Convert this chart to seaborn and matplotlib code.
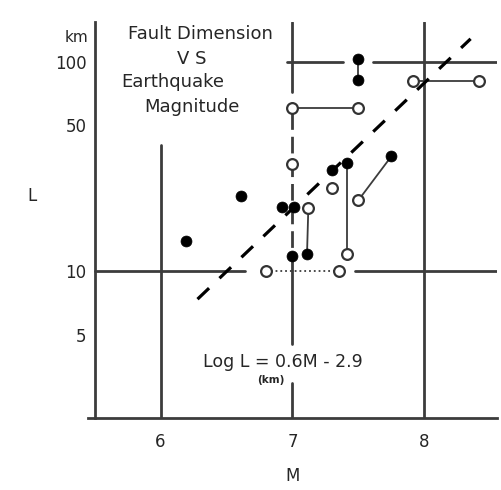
import numpy as np
import matplotlib
matplotlib.use('Agg')
import matplotlib.pyplot as plt
import seaborn as sns

# filled points (M, L in km)
filled_M = [6.19, 6.61, 6.92, 7.01, 7.00, 7.11, 7.30, 7.41, 7.75, 7.50, 7.50]
filled_L = [14.0, 23.0, 20.3, 20.3, 11.9, 12.1, 30.6, 33.0, 35.5, 103.0, 82.0]

# open points
open_M = [7.00, 7.50, 7.91, 8.41, 7.00, 7.30, 7.12, 7.50, 7.41, 6.80, 7.35]
open_L = [60.0, 60.0, 81.0, 81.0, 32.4, 25.1, 20.1, 21.9, 12.1, 10.0, 10.0]

# links between points: (kind_a, idx_a, kind_b, idx_b, style)
links = [
    ('o', 0, 'o', 1, '-'),
    ('o', 2, 'o', 3, '-'),
    ('o', 6, 'f', 5, '-'),
    ('f', 7, 'o', 8, '-'),
    ('o', 7, 'f', 8, '-'),
    ('f', 9, 'f', 10, '-'),
    ('o', 9, 'o', 10, ':'),
]

# regression line Log L = 0.6 M - 2.9
fit_a, fit_b = 0.6, -2.9
fit_M_range = [6.28, 8.35]

# guide lines of the drawing
v_guides = [(6, 2, 40), (8, 2, 155), (7, 72, 155), (7, 4.5, 10), (7, 2, 2.95)]
v_dashed = [(7, 10, 60)]
h_guides = [(100, 6.955, 7.38), (100, 7.61, 8.55), (10, 5.5, 6.64), (10, 7.47, 8.55)]

sns.set_style('white')
plt.rcParams['font.family'] = ['DejaVu Sans']

fig = plt.figure(figsize=(5.02, 4.90), dpi=100)
ax = fig.add_axes([88/502, 72/490, 409/502, 396/490])
ax.set_yscale('log')
ax.set_xlim(5.45, 8.55)
ax.set_ylim(2, 155)

line_col = '#3c3c3c'
for m, l0, l1 in v_guides:
    ax.plot([m, m], [l0, l1], color=line_col, lw=2, zorder=1)
for m, l0, l1 in v_dashed:
    ax.plot([m, m], [l0, l1], color=line_col, lw=2, ls=(0, (6, 2.5)), zorder=1)
for l, m0, m1 in h_guides:
    ax.plot([m0, m1], [l, l], color=line_col, lw=2, zorder=1)

pts = {'f': (filled_M, filled_L), 'o': (open_M, open_L)}
for ka, ia, kb, ib, st in links:
    xa, ya = pts[ka][0][ia], pts[ka][1][ia]
    xb, yb = pts[kb][0][ib], pts[kb][1][ib]
    ax.plot([xa, xb], [ya, yb], color=line_col, lw=1.3, ls=st, zorder=2)

fit_M = np.array(fit_M_range)
ax.plot(fit_M, 10 ** (fit_a * fit_M + fit_b), color='black', lw=2.3,
        ls=(0, (5, 4.5)), zorder=3)

sns.scatterplot(x=open_M, y=open_L, ax=ax, s=60, color='white',
                edgecolor='#333333', linewidth=1.6, zorder=4)
sns.scatterplot(x=filled_M, y=filled_L, ax=ax, s=62, color='black',
                edgecolor='black', linewidth=0.5, zorder=5)

# axes styling
for s in ['top', 'right']:
    ax.spines[s].set_visible(False)
ax.spines['left'].set_position(('data', 5.5))
for s in ['left', 'bottom']:
    ax.spines[s].set_color(line_col)
    ax.spines[s].set_linewidth(2)

ax.set_xticks([6, 7, 8])
ax.set_xticklabels(['6', '7', '8'])
ax.set_xticks([5.5, 6.5, 7.5, 8.5], minor=True)
ax.set_yticks([5, 10, 50, 100])
ax.set_yticklabels(['5', '10', '50', '100'])
ax.set_yticks([3, 4, 6, 7, 8, 9, 20, 30, 40, 60, 70, 80, 90], minor=True)
ax.yaxis.set_minor_formatter(matplotlib.ticker.NullFormatter())
ax.tick_params(axis='x', which='both', direction='out', length=6, width=1.6,
               color=line_col, labelsize=12, pad=5)
ax.tick_params(axis='y', which='major', direction='inout', length=10, width=1.6,
               color=line_col, labelsize=12, pad=1)
ax.tick_params(axis='y', which='minor', direction='in', length=6, width=1.6,
               color=line_col)

ax.set_xlabel('M', fontsize=12, va='center')
ax.xaxis.set_label_coords(0.501, -0.146)
ax.set_ylabel('L', fontsize=12, rotation=0, va='center', ha='center')
ax.yaxis.set_label_coords(-0.137, 0.56)
ax.text(-0.027, 0.96, 'km', transform=ax.transAxes, fontsize=11,
        ha='center', va='center')

# title block
for txt, x, y in [('Fault Dimension', 200, 34), ('V S', 192, 59),
                  ('Earthquake', 173, 82), ('Magnitude', 192, 107)]:
    fig.text(x/502, 1 - y/490, txt, fontsize=13, ha='center', va='center')

fig.text(203/502, 1 - 362/490, 'Log L = 0.6M - 2.9', fontsize=12.5,
         ha='left', va='center')
fig.text(271/502, 1 - 380/490, '(km)', fontsize=7.5, fontweight='bold',
         ha='center', va='center')

fig.savefig('out.png', dpi=100)
